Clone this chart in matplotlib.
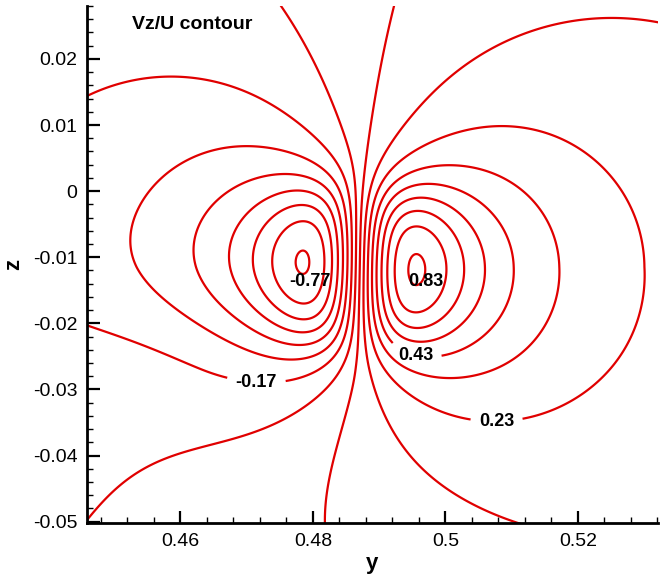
import matplotlib
matplotlib.use('Agg')
import matplotlib.pyplot as plt
import numpy as np
from matplotlib.ticker import MultipleLocator, FormatStrFormatter

plt.rcParams['font.family'] = 'Liberation Sans'

# vortex model: centre, far-field strength, core radius
vortex_center = [0.4874, -0.0115]
vortex_strength = 0.0098
core_radius = 0.00768
core_stretch = 1.8      # loops near the core are taller than wide
stretch_radius = 0.012
core_shift = 0.07
z_gradient = -0.25      # slight rise of Vz/U below the vortex
# lower-left disturbance (wake): centre, width in y, width up / down, amplitude
wake_center = [0.466, -0.027]
wake_width_y = 0.03
wake_width_z = [0.012, 0.035]
wake_amp = 0.115

levels = [-0.77, -0.67, -0.57, -0.47, -0.37, -0.27, -0.17, -0.07,
          0.03, 0.13, 0.23, 0.33, 0.43, 0.53, 0.63, 0.73, 0.83]
label_levels_out = [-0.17, 0.23, 0.43]
label_pos_out = [(0.4715, -0.0282), (0.5077, -0.032), (0.496, -0.0224)]
label_levels_in = [-0.77, 0.83]
label_pos_in = [(0.4795, -0.0136), (0.4971, -0.0137)]

xticks = [0.46, 0.48, 0.5, 0.52]
yticks = [0.02, 0.01, 0, -0.01, -0.02, -0.03, -0.04, -0.05]

y = np.linspace(0.44, 0.54, 600)
z = np.linspace(-0.06, 0.035, 600)
Y, Z = np.meshgrid(y, z)
dy = Y - vortex_center[0]
dz = Z - vortex_center[1]
s = 1 + (core_stretch - 1) * np.exp(-(dy**2 + dz**2) / stretch_radius**2)
rho2 = dy**2 + (dz / s)**2
V = vortex_strength * dy / rho2 * (1 - np.exp(-rho2 / core_radius**2))
V += core_shift * np.exp(-rho2 / core_radius**2)
V += z_gradient * np.minimum(dz, 0)
sz = np.where(Z > wake_center[1], wake_width_z[0], wake_width_z[1])
V += wake_amp * np.exp(-((Y - wake_center[0]) / wake_width_y)**2
                       - ((Z - wake_center[1]) / sz)**2)

fig = plt.figure(figsize=(6.69, 5.76), dpi=100)
ax = fig.add_axes([87 / 669, 53 / 576, 571 / 669, 517 / 576])

plain = [l for l in levels if l not in label_levels_out]
line_kw = dict(colors='#e00000', linewidths=1.6, linestyles='solid')
ax.contour(Y, Z, V, levels=plain, **line_kw)
cs_out = ax.contour(Y, Z, V, levels=label_levels_out, **line_kw)
labels = ax.clabel(cs_out, manual=label_pos_out, fmt='%.2f',
                   fontsize=13, inline=True, colors='black')
for t in labels:
    t.set_rotation(0)
    t.set_fontweight('bold')
for lev, (px, pz) in zip(label_levels_in, label_pos_in):
    ax.text(px, pz, '%.2f' % lev, fontsize=13, fontweight='bold',
            ha='center', va='center')

ax.set_xlim(0.4459, 0.5321)
ax.set_ylim(-0.0502, 0.028)

ax.spines['top'].set_visible(False)
ax.spines['right'].set_visible(False)
ax.spines['left'].set_linewidth(2)
ax.spines['bottom'].set_linewidth(2)

ax.set_xticks(xticks)
ax.set_yticks(yticks)
ax.xaxis.set_minor_locator(MultipleLocator(0.004))
ax.yaxis.set_minor_locator(MultipleLocator(0.002))
ax.xaxis.set_major_formatter(FormatStrFormatter('%g'))
ax.yaxis.set_major_formatter(FormatStrFormatter('%g'))
ax.tick_params(which='major', direction='in', length=9, width=1.6,
               labelsize=14, pad=7)
ax.tick_params(which='minor', direction='in', length=4.5, width=1)

ax.set_xlabel('y', fontsize=16, fontweight='bold', labelpad=2)
ax.set_ylabel('z', fontsize=16, fontweight='bold', labelpad=6)

ax.text(0.079, 0.9555, 'Vz/U contour', transform=ax.transAxes,
        fontsize=14, fontweight='bold', va='baseline')

plt.savefig('out.png', dpi=100)
